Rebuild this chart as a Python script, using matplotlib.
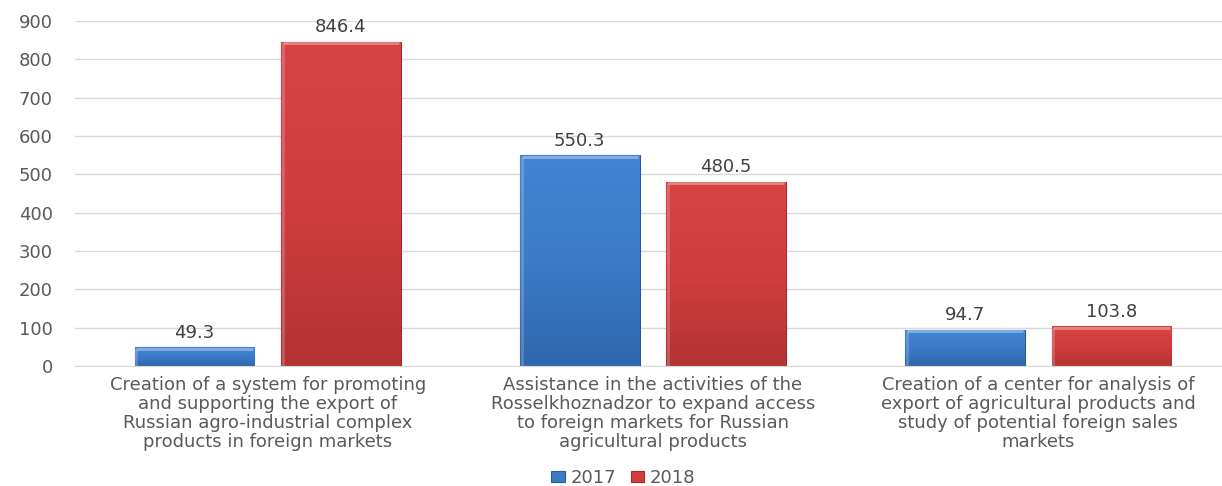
import numpy as np
import matplotlib.pyplot as plt
from matplotlib.colors import LinearSegmentedColormap

plt.rcParams['font.family'] = ['DejaVu Sans']

categories = [
    "Creation of a system for promoting\nand supporting the export of\nRussian agro-industrial complex\nproducts in foreign markets",
    "Assistance in the activities of the\nRosselkhoznadzor to expand access\nto foreign markets for Russian\nagricultural products",
    "Creation of a center for analysis of\nexport of agricultural products and\nstudy of potential foreign sales\nmarkets",
]
years = ["2017", "2018"]
values_2017 = [49.3, 550.3, 94.7]
values_2018 = [846.4, 480.5, 103.8]

colors = ["#3B7BC8", "#D13D3D"]
light = ["#4385D3", "#D84444"]
dark = ["#2F66AC", "#B33333"]
edge = ["#2A5A96", "#9E2C2C"]
text_gray = "#595959"

fig = plt.figure(figsize=(12.22, 4.86), dpi=100)
ax = fig.add_axes([75 / 1222, 1 - 366 / 486, 1156 / 1222, 345 / 486])

x = np.arange(len(categories))
width = 0.31
offset = 0.19

for i, (vals, yr) in enumerate(zip([values_2017, values_2018], years)):
    pos = x + (offset if i else -offset)
    bars = ax.bar(pos, vals, width, color=colors[i], edgecolor=edge[i],
                  linewidth=0.8, label=yr, zorder=2)
    cmap = LinearSegmentedColormap.from_list("g%d" % i, [dark[i], colors[i], light[i]])
    grad = np.linspace(0, 1, 256).reshape(-1, 1)
    for b, v in zip(bars, vals):
        im = ax.imshow(grad, extent=[b.get_x(), b.get_x() + width, 0, v],
                       origin="lower", aspect="auto", cmap=cmap, zorder=2.5)
        im.set_clip_path(b)
        # bevel highlight along the top and left edge
        ax.plot([b.get_x() + 0.004, b.get_x() + width - 0.004], [v - 4, v - 4],
                color="white", alpha=0.35, lw=2, zorder=3, solid_capstyle="butt")
        ax.plot([b.get_x() + 0.004, b.get_x() + 0.004], [0, v - 4],
                color="white", alpha=0.2, lw=2, zorder=3, solid_capstyle="butt")
        ax.text(b.get_x() + width / 2, v + 14, f"{v:.1f}", ha="center",
                va="bottom", fontsize=13, color="#404040", zorder=4)

ax.set_xlim(-0.5, 2.5)
ax.set_ylim(0, 900)
ax.set_yticks(range(0, 901, 100))
ax.set_xticks(x)
ax.set_xticklabels(categories, fontsize=13, color=text_gray, linespacing=1.07)
ax.tick_params(axis="y", labelsize=13, labelcolor=text_gray, length=0, pad=16)
ax.tick_params(axis="x", length=0, pad=7)
ax.grid(axis="y", color="#D9D9D9", linewidth=1, zorder=0)
ax.set_axisbelow(True)
for s in ["top", "right", "left"]:
    ax.spines[s].set_visible(False)
ax.spines["bottom"].set_color("#D9D9D9")

fig.legend(loc="lower center", ncol=2, frameon=False, fontsize=13,
           handlelength=0.75, handleheight=0.6, handletextpad=0.3,
           columnspacing=0.8, bbox_to_anchor=(0.51, -0.035), labelcolor=text_gray)

fig.savefig("out.png", dpi=100)
